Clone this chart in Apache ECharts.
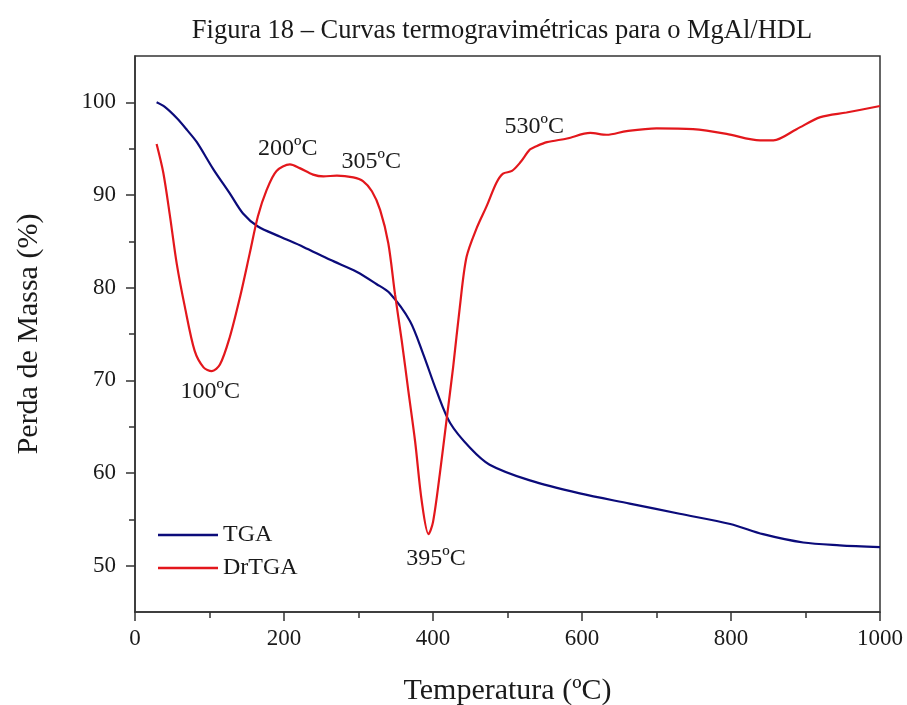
<!DOCTYPE html>
<html>
<head>
<meta charset="utf-8">
<script src="https://cdn.jsdelivr.net/npm/echarts@6/dist/echarts.min.js"></script>
<style>
  html, body { margin: 0; padding: 0; background: #fff; }
  #chart { width: 907px; height: 705px; }
</style>
</head>
<body>
<div id="chart"></div>
<script>
// curva TGA (perda de massa)
const tgaTemp = [29, 40, 56, 70, 83, 105, 127, 145, 165, 195, 226, 262, 298, 324, 342, 369, 387, 405, 423, 450, 476, 530, 597, 664, 731, 799, 843, 897, 946, 1000];
const tgaMass = [100.0, 99.5, 98.3, 97.0, 95.7, 92.8, 90.2, 88.0, 86.6, 85.5, 84.4, 83.0, 81.7, 80.4, 79.4, 76.4, 72.8, 68.8, 65.4, 62.7, 60.9, 59.2, 57.8, 56.7, 55.6, 54.5, 53.4, 52.5, 52.2, 52.0];

// curva DrTGA
const drTemp = [29, 38, 47, 56, 67, 80, 92, 103, 114, 127, 141, 154, 165, 177, 190, 208, 221, 239, 253, 271, 293, 306, 318, 329, 340, 349, 358, 367, 376, 385, 394, 400, 409, 418, 427, 436, 445, 459, 472, 485, 494, 506, 517, 530, 537, 553, 580, 611, 633, 660, 700, 749, 794, 839, 857, 888, 920, 955, 1000];
const drVal = [95.5, 92.4, 87.7, 82.6, 77.9, 73.2, 71.4, 71.0, 71.7, 74.6, 79.0, 83.7, 87.7, 90.6, 92.6, 93.3, 92.9, 92.2, 92.0, 92.1, 91.9, 91.5, 90.4, 88.4, 84.8, 79.3, 74.3, 68.8, 63.4, 56.9, 53.4, 54.7, 59.8, 65.6, 71.4, 77.9, 83.3, 86.5, 88.8, 91.3, 92.3, 92.6, 93.5, 94.9, 95.2, 95.7, 96.1, 96.7, 96.5, 96.9, 97.2, 97.1, 96.6, 95.9, 95.9, 97.1, 98.4, 98.9, 99.6];

// anotações dos picos (texto e ponto de ancoragem em coordenadas dos dados)
const peakLabels = ['100ºC', '200ºC', '305ºC', '395ºC', '530ºC'];
const peakTemp = [101, 205, 317, 404, 536];
const peakAt = [68.8, 95.0, 93.6, 50.8, 97.4];

const yMajor = [50, 60, 70, 80, 90, 100];
const yMinor = [55, 65, 75, 85, 95];

const serif = "'Liberation Serif', 'Times New Roman', serif";
const ink = '#1a1a1a';

const zip = (a, b) => a.map((v, i) => [v, b[i]]);

const chart = echarts.init(document.getElementById('chart'));
chart.setOption({
  backgroundColor: '#fff',
  animation: false,
  title: {
    text: 'Figura 18 – Curvas termogravimétricas para o MgAl/HDL',
    left: 497,
    textAlign: 'center',
    top: 13,
    textStyle: { fontFamily: serif, fontSize: 26.5, fontWeight: 'normal', color: ink }
  },
  legend: {
    orient: 'vertical',
    left: 153,
    top: 518,
    icon: 'rect',
    itemWidth: 60,
    itemHeight: 2.5,
    itemGap: 9,
    data: ['TGA', 'DrTGA'],
    textStyle: { fontFamily: serif, fontSize: 24, color: ink }
  },
  grid: {
    left: 135, right: 27, top: 56, bottom: 93,
    outerBoundsMode: 'none',
    containLabel: false,
    show: true, borderColor: '#333', borderWidth: 1.5
  },
  xAxis: {
    type: 'value', min: 0, max: 1000, interval: 200,
    name: 'Temperatura (ºC)', nameLocation: 'middle', nameGap: 64,
    nameTextStyle: { fontFamily: serif, fontSize: 30, color: ink },
    axisLine: { show: true, lineStyle: { color: '#333', width: 1.5 } },
    axisTick: { show: true, length: 9, lineStyle: { color: '#333', width: 1.5 } },
    minorTick: { show: true, splitNumber: 2, length: 6, lineStyle: { color: '#333', width: 1.5 } },
    axisLabel: { fontFamily: serif, fontSize: 23, color: ink, margin: 15, formatter: v => String(v) },
    splitLine: { show: false }
  },
  yAxis: [{
    type: 'value', min: 45, max: 105, position: 'left',
    name: 'Perda de Massa (%)', nameLocation: 'middle', nameGap: 91,
    nameTextStyle: { fontFamily: serif, fontSize: 30, color: ink },
    axisLine: { show: true, lineStyle: { color: '#333', width: 1.5 } },
    axisTick: { show: true, length: 9, customValues: yMajor, lineStyle: { color: '#333', width: 1.5 } },
    axisLabel: { fontFamily: serif, fontSize: 23, color: ink, margin: 19, customValues: yMajor },
    splitLine: { show: false }
  }, {
    type: 'value', min: 45, max: 105, position: 'left',
    axisLine: { show: false },
    axisTick: { show: true, length: 6, customValues: yMinor, lineStyle: { color: '#333', width: 1.5 } },
    axisLabel: { show: false },
    splitLine: { show: false }
  }],
  series: [{
    name: 'TGA',
    type: 'line',
    data: zip(tgaTemp, tgaMass),
    smooth: 0.3,
    showSymbol: false,
    color: '#0b0b7a',
    lineStyle: { width: 2.2, color: '#0b0b7a' }
  }, {
    name: 'DrTGA',
    type: 'line',
    data: zip(drTemp, drVal),
    smooth: 0.3,
    showSymbol: false,
    color: '#e3171c',
    lineStyle: { width: 2.2, color: '#e3171c' },
    markPoint: {
      symbol: 'circle',
      symbolSize: 1,
      itemStyle: { color: 'rgba(0,0,0,0)' },
      label: {
        show: true, position: 'inside',
        fontFamily: serif, fontSize: 24, color: ink,
        formatter: p => p.name
      },
      data: peakLabels.map((t, i) => ({ name: t, coord: [peakTemp[i], peakAt[i]] }))
    }
  }]
});
</script>
</body>
</html>
